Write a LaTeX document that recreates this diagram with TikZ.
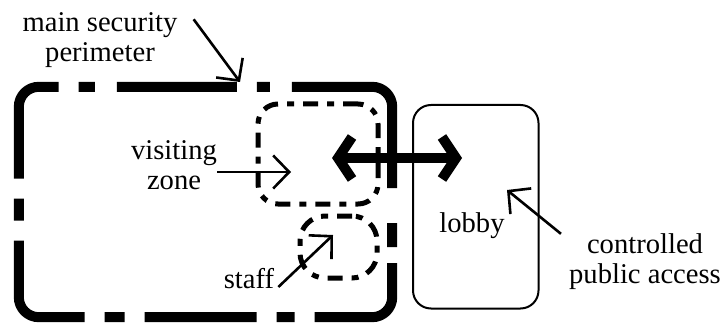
\documentclass[tikz,border=0pt]{standalone}
\usepackage{fontspec}
\setmainfont{Liberation Serif}
\newfontfamily\labelfont{Liberation Serif}
\usetikzlibrary{arrows.meta}

\begin{document}
\begin{tikzpicture}[
    x=1pt, y=-1pt,
    label text/.style={align=center, inner sep=0pt,
                       font=\labelfont\fontsize{28.6}{30}\selectfont},
    area/.style={rectangle, inner sep=0pt},
    perimeter line/.style={line width=10pt, rounded corners=20pt,
        dash pattern=on 15pt off 22pt on 120pt off 20pt on 13pt off 22pt
                     on 193pt off 35pt on 24pt off 16pt on 123pt off 20pt
                     on 18pt off 20pt on 112pt off 20pt on 20pt off 20pt
                     on 134pt off 20pt on 22pt off 20pt on 123pt off 20pt},
    inner zone/.style={area, draw, line width=5pt,
                       dash pattern=on 15pt off 9pt on 7pt off 9pt},
    pointer/.style={-{Straight Barb[length=16pt, width=33pt]}, line width=2.6pt},
    passage/.style={{Straight Barb[length=14pt, width=42pt]}-{Straight Barb[length=14pt, width=42pt]},
                    line width=10pt}
]
    \useasboundingbox (0,0) rectangle (727,323);

    % Zones
    \node[area, minimum width=373pt, minimum height=230pt] (perim) at (205.5,202) {};
    \node[inner zone, rounded corners=20pt, minimum width=120pt, minimum height=100pt] (visit) at (318,154) {};
    \node[inner zone, rounded corners=25pt, minimum width=77pt, minimum height=62pt] (staff) at (338.5,247) {};
    \node[area, draw, line width=2pt, rounded corners=18pt,
          minimum width=125.5pt, minimum height=203.5pt] (lobby) at (475.75,206.75) {};

    % Main security perimeter (dash-dot outline)
    \draw[perimeter line] ([xshift=41pt]perim.north west) -- (perim.north east)
        -- (perim.south east) -- (perim.south west) -- (perim.north west) -- cycle;

    % Labels
    \node[label text] (perimlabel) at (100,40) {main security\\perimeter};
    \node[label text] (visitlabel) at (174,165) {visiting\\zone};
    \node[label text] (stafflabel) at (249,279) {staff};
    \node[label text] (lobbylabel) at (472,226) {lobby};
    \node[label text] (publiclabel) at (645,262) {controlled\\public access};

    % Arrow ends
    \coordinate (perim tip) at (240,82);
    \coordinate (visit tip) at (291,172);
    \coordinate (staff tip) at (333,235);
    \coordinate (lobby tip) at (507,190);
    \coordinate (gate in) at (332,158);
    \coordinate (gate out) at (462,158);

    % Pointers
    \draw[pointer] ([xshift=16pt,yshift=-7pt]perimlabel.north east) -- (perim tip);
    \draw[pointer] ([yshift=-7pt]visitlabel.east) -- (visit tip);
    \draw[pointer] ([xshift=4pt,yshift=-8pt]stafflabel.east) -- (staff tip);
    \draw[pointer] ([xshift=-8pt]publiclabel.north west) -- (lobby tip);

    % Passage between visiting zone and lobby
    \draw[passage] (gate in) -- (gate out);
\end{tikzpicture}
\end{document}
